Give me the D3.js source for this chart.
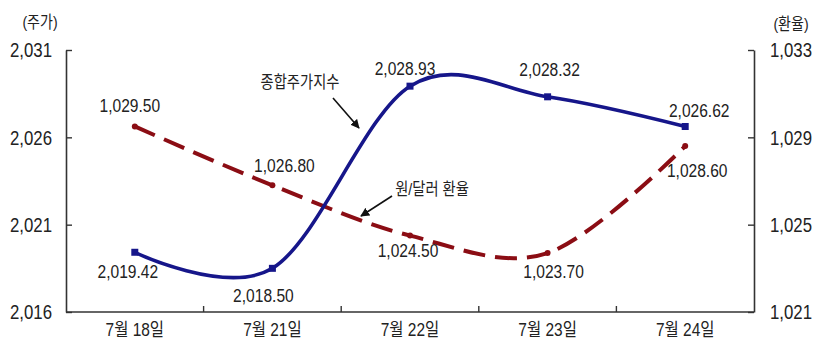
<!DOCTYPE html>
<html>
<head>
<meta charset="utf-8">
<script src="https://cdn.jsdelivr.net/npm/d3@7"></script>
<style>
  html, body { margin: 0; padding: 0; background: #fff; }
  svg { display: block; }
</style>
</head>
<body>
<div id="chart"></div>
<script>
// KOSPI and KRW/USD daily closes, 18–24 July
const categories = ["7월 18일", "7월 21일", "7월 22일", "7월 23일", "7월 24일"];
const kospi = [2019.42, 2018.50, 2028.93, 2028.32, 2026.62];
const fxRate = [1029.50, 1026.80, 1024.50, 1023.70, 1028.60];
const kospiTicks = [2016, 2021, 2026, 2031];
const fxTicks = [1021, 1025, 1029, 1033];
const kospiDomain = [2016, 2031];
const fxDomain = [1021, 1033];

const W = 814, H = 342;
const margin = { top: 50, right: 60, bottom: 30, left: 66 };
const innerW = W - margin.left - margin.right;
const innerH = H - margin.top - margin.bottom;

const NUM_FONT = "'Liberation Sans', Arial, sans-serif";
const KO_FONT = "'Liberation Sans', 'Noto Sans CJK KR', sans-serif";
const TEXT = "#222";
const BLUE = "#16168a";
const RED = "#8b0d14";

const svg = d3.select("#chart").append("svg")
  .attr("width", W).attr("height", H);

const defs = svg.append("defs");
defs.append("marker")
  .attr("id", "arrowhead")
  .attr("viewBox", "0 0 10 10")
  .attr("refX", 9).attr("refY", 5)
  .attr("markerWidth", 9).attr("markerHeight", 9)
  .attr("markerUnits", "userSpaceOnUse")
  .attr("orient", "auto")
  .append("path").attr("d", "M0,0 L10,5 L0,10 z").attr("fill", "#111");

const g = svg.append("g").attr("transform", `translate(${margin.left},${margin.top})`);

const x = d3.scaleBand().domain(categories).range([0, innerW]).padding(0);
const yL = d3.scaleLinear().domain(kospiDomain).range([innerH, 0]);
const yR = d3.scaleLinear().domain(fxDomain).range([innerH, 0]);
const cx = c => x(c) + x.bandwidth() / 2;
const fmtAxis = d3.format(",");
const fmtVal = d3.format(",.2f");

// condensed text helper: places text at (px,py) with horizontal squeeze
function label(parent, px, py, str, opts) {
  const o = Object.assign({ size: 19, sx: 0.82, sy: 1, anchor: "middle", font: NUM_FONT }, opts || {});
  return parent.append("text")
    .attr("transform", `translate(${px},${py}) scale(${o.sx},${o.sy})`)
    .attr("text-anchor", o.anchor)
    .attr("dy", "0.36em")
    .attr("font-family", o.font)
    .attr("font-size", o.size)
    .attr("fill", TEXT)
    .text(str);
}

// axes
const axisL = d3.axisLeft(yL).tickValues(kospiTicks).tickSizeInner(-6).tickSizeOuter(0).tickFormat("");
const axisR = d3.axisRight(yR).tickValues(fxTicks).tickSizeInner(-6).tickSizeOuter(0).tickFormat("");

const gL = g.append("g").call(axisL);
const gR = g.append("g").attr("transform", `translate(${innerW},0)`).call(axisR);
[gL, gR].forEach(a => {
  a.select(".domain").attr("stroke", "#333").attr("stroke-width", 1.6);
  a.selectAll(".tick line").attr("stroke", "#333").attr("stroke-width", 1.4);
});

kospiTicks.forEach(v => label(g, -14, yL(v), fmtAxis(v), { size: 20.5, anchor: "end" }));
fxTicks.forEach(v => label(g, innerW + 16, yR(v), fmtAxis(v), { size: 20.5, anchor: "start" }));

// bottom axis with ticks on category boundaries
g.append("line")
  .attr("x1", 0).attr("x2", innerW)
  .attr("y1", innerH).attr("y2", innerH)
  .attr("stroke", "#333").attr("stroke-width", 1.6);
categories.slice(1).forEach(c => {
  g.append("line")
    .attr("x1", x(c)).attr("x2", x(c))
    .attr("y1", innerH).attr("y2", innerH - 6)
    .attr("stroke", "#333").attr("stroke-width", 1.4);
});
categories.forEach(c => label(g, cx(c), innerH + 18, c, { size: 18, sx: 0.86, font: KO_FONT }));

// axis titles
label(svg, 40, 22, "(주가)", { size: 16.5, sx: 0.85, font: KO_FONT });
label(svg, 791, 24, "(환율)", { size: 16.5, sx: 0.85, font: KO_FONT });

// series
const curve = d3.curveCardinal.tension(0);
const lineL = d3.line().x((d, i) => cx(categories[i])).y(d => yL(d)).curve(curve);
const lineR = d3.line().x((d, i) => cx(categories[i])).y(d => yR(d)).curve(curve);

g.append("path").datum(fxRate)
  .attr("d", lineR)
  .attr("fill", "none").attr("stroke", RED)
  .attr("stroke-width", 4).attr("stroke-dasharray", "22,10");

g.append("path").datum(kospi)
  .attr("d", lineL)
  .attr("fill", "none").attr("stroke", BLUE)
  .attr("stroke-width", 3.6);

g.selectAll(".fx-pt").data(fxRate).enter().append("circle")
  .attr("cx", (d, i) => cx(categories[i])).attr("cy", d => yR(d))
  .attr("r", 3).attr("fill", RED);

g.selectAll(".k-pt").data(kospi).enter().append("rect")
  .attr("x", (d, i) => cx(categories[i]) - 3.5).attr("y", d => yL(d) - 3.5)
  .attr("width", 7).attr("height", 7).attr("fill", BLUE);

// value labels
const kospiLabelOffset = [[-7, 19], [-9, 27], [-5, -18], [2, -28], [14, -16]];
const fxLabelOffset = [[-5, -21], [12, -20], [-2, 15], [6, 18], [12, 24]];

kospi.forEach((v, i) => {
  const [dx, dy] = kospiLabelOffset[i];
  label(g, cx(categories[i]) + dx, yL(v) + dy, fmtVal(v));
});
fxRate.forEach((v, i) => {
  const [dx, dy] = fxLabelOffset[i];
  label(g, cx(categories[i]) + dx, yR(v) + dy, fmtVal(v));
});

// series callouts
label(svg, 300, 82, "종합주가지수", { size: 17, sx: 0.84, font: KO_FONT });
svg.append("line")
  .attr("x1", 333).attr("y1", 98).attr("x2", 359).attr("y2", 128)
  .attr("stroke", "#111").attr("stroke-width", 1.6)
  .attr("marker-end", "url(#arrowhead)");

label(svg, 432, 189, "원/달러 환율", { size: 17, sx: 0.84, font: KO_FONT });
svg.append("line")
  .attr("x1", 392).attr("y1", 196).attr("x2", 361).attr("y2", 216)
  .attr("stroke", "#111").attr("stroke-width", 1.6)
  .attr("marker-end", "url(#arrowhead)");
</script>
</body>
</html>
